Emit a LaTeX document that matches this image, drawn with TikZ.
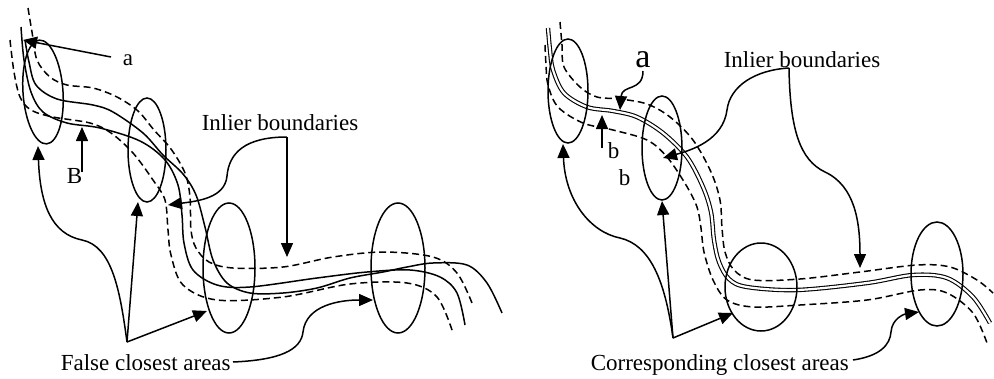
\documentclass[tikz,border=0pt]{standalone}
\usepackage{fontspec}
\setmainfont{Liberation Serif}
\usetikzlibrary{arrows.meta,shapes.geometric}
\begin{document}
\begin{tikzpicture}[x=1pt,y=-1pt,line width=1.5pt,
  lab/.style={font=\fontsize{23}{27}\selectfont,inner sep=0pt,anchor=base west},
  arr/.style={-{Triangle[length=14pt,width=12pt]}},
  dsh/.style={dash pattern=on 7pt off 4pt},
  curve/.style={smooth,tension=0.55},
  area/.style={draw,ellipse,inner sep=0pt},
  dbl/.style={double,double distance=2.2pt,line width=1.1pt}]
\useasboundingbox (0,0) rectangle (994,378);

% ---------------- left panel: curves ----------------
\draw plot[curve] coordinates {(25,40) (29,62) (36,85) (57,99) (93,105) (113,112) (143,133) (163,155) (183,174) (196,195) (205,227) (213,260) (227,283) (250,293) (283,293) (317,288) (350,278) (383,272) (407,267) (433,263) (467,265) (487,283) (502,313)};
\draw plot[curve] coordinates {(21,27) (24,60) (31,92) (43,112) (67,123) (100,128) (140,141) (165,160) (178,185) (182,215) (184,243) (193,270) (217,285) (250,287) (317,278) (367,272) (410,270) (440,277) (457,293) (465,325)};
\draw[dsh] plot[curve] coordinates {(28,8) (32,32) (37,60) (50,77) (67,85) (93,88) (117,97) (138,111) (154,130) (171,149) (185,173) (190,197) (191,230) (196,248) (209,262) (233,268) (283,267) (333,257) (383,252) (433,257) (457,273) (472,303)};
\draw[dsh] plot[curve] coordinates {(10,40) (14,72) (20,97) (31,110) (53,117) (90,123) (111,133) (133,153) (153,180) (165,200) (168,230) (171,255) (183,285) (217,300) (283,297) (350,284) (407,283) (437,297) (453,333)};

% ---------------- right panel: curves ----------------
\draw[dbl] plot[curve] coordinates {(548,28) (550,50) (553,70) (564,93) (587,107) (613,111) (637,117) (663,133) (687,157) (703,187) (711,212) (714,240) (719,262) (729,279) (747,287) (797,290) (867,283) (913,275) (947,278) (973,297) (990,323)};
\draw[dsh] plot[curve] coordinates {(560,22) (562,45) (564,67) (580,87) (597,97) (620,99) (647,104) (670,117) (693,140) (711,172) (720,200) (722,228) (725,252) (734,270) (753,280) (800,279) (860,272) (917,265) (950,267) (977,280) (993,293)};
\draw[dsh] plot[curve] coordinates {(545,45) (546,65) (548,85) (558,107) (583,123) (613,130) (647,140) (667,157) (686,185) (697,207) (701,228) (704,252) (713,280) (727,300) (753,307) (800,305) (867,300) (920,290) (947,293) (973,313) (987,343)};

% ---------------- ellipses ----------------
\node[area,minimum width=40pt,minimum height=104pt,rotate=4] (e1) at (43,92) {};
\node[area,minimum width=38pt,minimum height=104pt] (e2) at (147,150) {};
\node[area,minimum width=52pt,minimum height=130pt] (e3) at (229,268) {};
\node[area,minimum width=54pt,minimum height=130pt] (e4) at (398,268) {};
\node[area,minimum width=40pt,minimum height=104pt] (r1) at (568,91) {};
\node[area,minimum width=40pt,minimum height=104pt] (r2) at (662,148) {};
\node[area,minimum width=72pt,minimum height=88pt] (r3) at (761,287) {};
\node[area,minimum width=52pt,minimum height=104pt] (r4) at (937,274) {};

% ---------------- labels ----------------
\node[lab] (la) at (122,65) {a};
\node[lab] (lB) at (66,183) {B};
\node[lab] (lin) at (201,130) {Inlier boundaries};
\node[lab] (lfalse) at (60,370) {False closest areas};
\node[font=\fontsize{34}{40}\selectfont,inner sep=0pt,anchor=base] (ra) at (643,67) {a};
\node[lab] (rb1) at (607,158) {b};
\node[lab] (rb2) at (618,185) {b};
\node[lab] (rin) at (723,67) {Inlier boundaries};
\node[lab] (rcorr) at (590,370) {Corresponding closest areas};

% ---------------- connector coordinates ----------------
\coordinate (laS) at (111,57);   \coordinate (laT) at (23,40);
\coordinate (lBS) at (82,172);   \coordinate (lBT) at (82,127);
\coordinate (liJ) at (287,137);  \coordinate (liT1) at (287,257); \coordinate (liT2) at (168,205);
\coordinate (lfJ) at (127,342);
\coordinate (t1) at (38,146); \coordinate (t2) at (138,202); \coordinate (t3) at (207,311);
\coordinate (lfS) at (233,362); \coordinate (t4) at (373,300);
\coordinate (raS) at (643,71);   \coordinate (raT) at (620,110);
\coordinate (rbS) at (602,148);  \coordinate (rbT) at (602,115);
\coordinate (riJ) at (789,68);   \coordinate (riT1) at (663,158); \coordinate (riT2) at (860,268);
\coordinate (rfJ) at (673,338);
\coordinate (u1) at (563,144); \coordinate (u2) at (662,201); \coordinate (u3) at (733,313);
\coordinate (rcS) at (853,360); \coordinate (u4) at (919,312);

% ---------------- left arrows ----------------
\draw[arr] (laS) -- (laT);
\draw[arr] (lBS) -- (lBT);
\draw[arr] (liJ) -- (liT1);
\draw[arr] (liJ) .. controls (245,137) and (229,153) .. (227,176) .. controls (225,198) and (198,201) .. (liT2);
\draw[arr] (lfJ) .. controls (120,290) and (112,246) .. (82,240) .. controls (52,234) and (40,205) .. (t1);
\draw[arr] (lfJ) -- (t2);
\draw[arr] (lfJ) -- (t3);
\draw[arr] (lfS) .. controls (280,360) and (301,350) .. (303,332) .. controls (306,305) and (340,300) .. (t4);

% ---------------- right arrows ----------------
\draw[arr] (raS) .. controls (643,92) and (622,84) .. (raT);
\draw[arr] (rbS) -- (rbT);
\draw[arr] (riJ) .. controls (755,70) and (730,86) .. (727,110) .. controls (723,140) and (692,150) .. (riT1);
\draw[arr] (riJ) .. controls (790,130) and (800,160) .. (825,172) .. controls (855,186) and (860,222) .. (riT2);
\draw[arr] (rfJ) .. controls (665,280) and (650,245) .. (620,238) .. controls (590,232) and (565,200) .. (u1);
\draw[arr] (rfJ) -- (u2);
\draw[arr] (rfJ) -- (u3);
\draw[arr] (rcS) .. controls (880,356) and (890,345) .. (891,332) .. controls (892,318) and (905,314) .. (u4);
\end{tikzpicture}
\end{document}
